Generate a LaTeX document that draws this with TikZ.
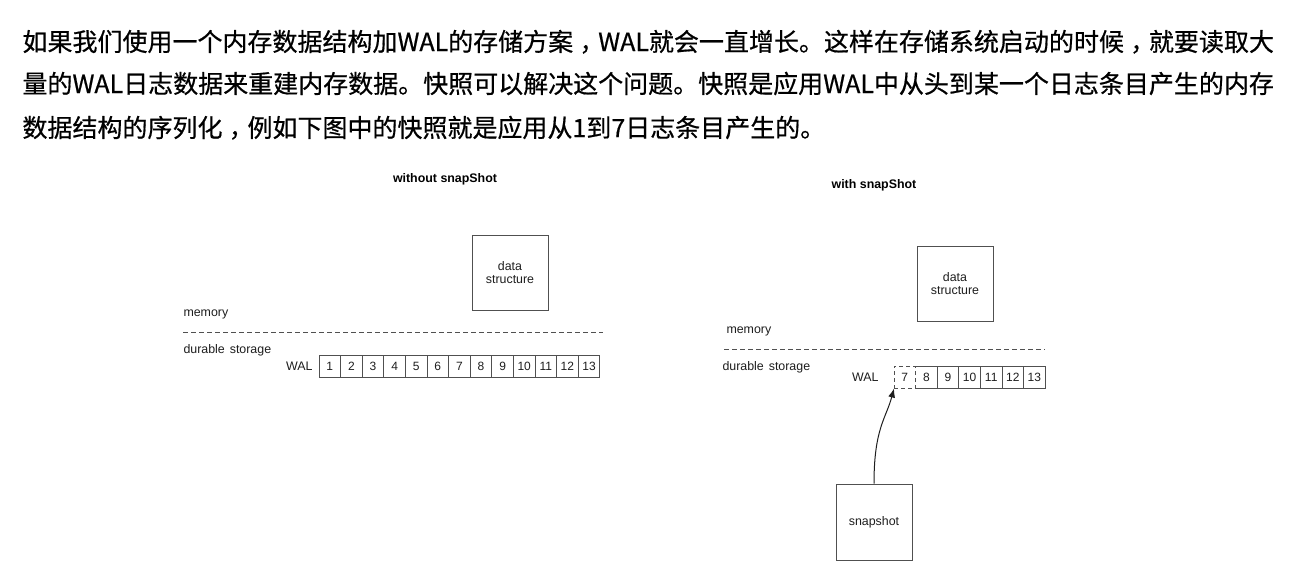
\documentclass[tikz,border=0pt]{standalone}
\usepackage{fontspec}
\setmainfont{Liberation Sans}
\newfontfamily\cjk[FakeBold=0.6]{Noto Sans CJK SC}
\newcommand\zhcomma{\hspace{0.25em}，\hspace{-0.25em}}
\usepackage{tikz}
\usetikzlibrary{positioning}
\usetikzlibrary{arrows.meta}
\definecolor{linegray}{HTML}{505050}
\definecolor{textgray}{HTML}{1E1E1E}
\tikzset{box node/.style={rectangle,draw=linegray,minimum width=38pt,minimum height=37.5pt,inner sep=0pt,align=center,text=textgray,font=\fontsize{6.2}{6.5}\selectfont},
cell node/.style={rectangle,minimum width=10.8pt,minimum height=11pt,inner sep=0pt,outer sep=0pt,text=textgray,font=\fontsize{6}{6}\selectfont},
label node/.style={inner sep=0pt,text=textgray,font=\fontsize{6.2}{6.5}\selectfont},
title node/.style={inner sep=0pt,text=black,font=\bfseries\fontsize{6.2}{6.5}\selectfont},
line node/.style={anchor=base west,inner sep=0pt,text=black,font=\cjk\fontsize{12.5}{15}\selectfont},
sep line/.style={draw=linegray,dash pattern=on 2.5pt off 1.5pt},}

\begin{document}
\begin{tikzpicture}[x=0.5pt,y=-0.5pt,line width=0.5pt]
    \path[use as bounding box,fill=white] (0,0) rectangle (1292,568);

    % text above the figure
    \node[line node] (t1) at (22,51) {如果我们使用一个内存数据结构加WAL的存储方案\zhcomma WAL就会一直增长。这样在存储系统启动的时候\zhcomma 就要读取大};
    \node[line node] (t2) at (22,93) {量的WAL日志数据来重建内存数据。快照可以解决这个问题。快照是应用WAL中从头到某一个日志条目产生的内存};
    \node[line node] (t3) at (22,137) {数据结构的序列化\zhcomma 例如下图中的快照就是应用从1到7日志条目产生的。};

    % without snapshot
    \node[title node] (lefttitle) at (445,179) {without snapShot};
    \node[box node] (leftdata) at (510,272.5) {data\\structure};
    \node[label node,anchor=west] (leftmem) at (183,314) {memory};
    \node[label node,anchor=west] (leftdur) at (183,350) {durable\hspace{0.4em}storage};
    \coordinate (leftsepA) at (183,332);
    \coordinate (leftsepB) at (603,332);
    \draw[sep line] (leftsepA) -- (leftsepB);
    \node[cell node,draw=linegray] (l1) at (329.8,366) {1};
    \foreach \i [remember=\i as \j (initially 1)] in {2,...,13}
        \node[cell node,draw=linegray,right=0pt of l\j] (l\i) {\i};
    \node[label node,left=3pt of l1] (leftwal) {WAL};

    % with snapshot
    \node[title node] (righttitle) at (874,185) {with snapShot};
    \node[box node] (rightdata) at (955,284) {data\\structure};
    \node[label node,anchor=west] (rightmem) at (726,331) {memory};
    \node[label node,anchor=west] (rightdur) at (722,367) {durable\hspace{0.4em}storage};
    \coordinate (rightsepA) at (724,349);
    \coordinate (rightsepB) at (1045,349);
    \draw[sep line] (rightsepA) -- (rightsepB);
    \node[cell node,draw=linegray,dash pattern=on 2pt off 1.5pt] (r7) at (904.8,377.5) {7};
    \foreach \i [remember=\i as \j (initially 7)] in {8,...,13}
        \node[cell node,right=0pt of r\j] (r\i) {\i};
    \draw[linegray] (r8.north west) -- (r13.north east) -- (r13.south east) -- (r8.south west);
    \foreach \i in {9,...,13}
        \draw[linegray] (r\i.north west) -- (r\i.south west);
    \node[label node,left=7.5pt of r7] (rightwal) {WAL};
    \node[box node,minimum height=38pt] (snap) at (874,522) {snapshot};

    \draw[textgray,-{Latex[length=4.5pt,width=3.5pt]}] (snap.north) .. controls +(0,-55) and +(-8,30) .. (r7.south west);
\end{tikzpicture}
\end{document}
